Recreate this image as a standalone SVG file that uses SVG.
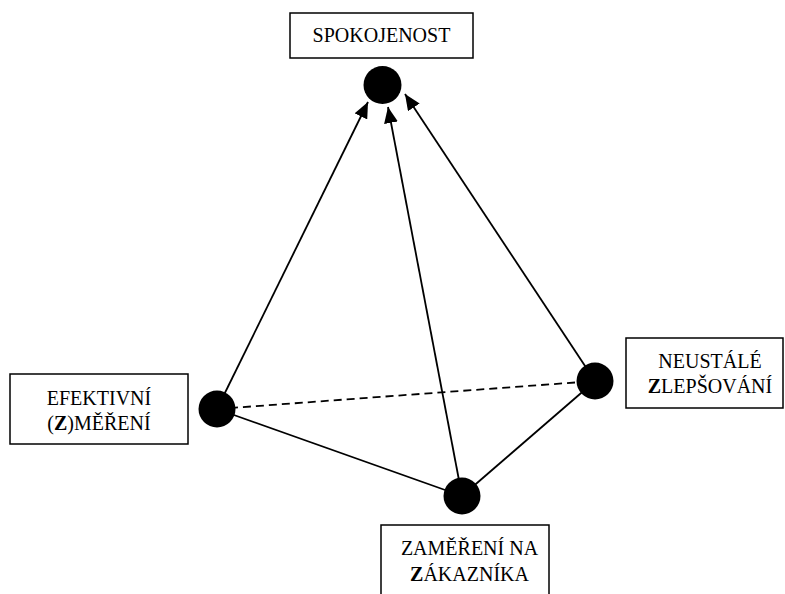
<svg xmlns="http://www.w3.org/2000/svg" width="785" height="594" viewBox="0 0 785 594">
<style>
.box{fill:#fff;stroke:#000;stroke-width:1.5}
.t{font-family:"Liberation Serif","Times New Roman",serif;font-size:20px;fill:#000;text-anchor:middle}
.b{font-weight:bold}
.dot{fill:#000}
.edge{stroke:#000;stroke-width:1.8;fill:none}
.dash{stroke-dasharray:8,5}
</style>
<defs>
<marker id="ah" markerUnits="userSpaceOnUse" markerWidth="16" markerHeight="14" refX="16" refY="7" orient="auto">
<path d="M0,0 L16,7 L0,14 Z" fill="#000"/>
</marker>
</defs>
<rect width="785" height="594" fill="#fff"/>
<g id="connectors">
<line class="edge" x1="217" y1="409" x2="368" y2="102" marker-end="url(#ah)"/>
<line class="edge" x1="462" y1="496" x2="388" y2="107" marker-end="url(#ah)"/>
<line class="edge" x1="595" y1="381" x2="405" y2="94" marker-end="url(#ah)"/>
<line class="edge" x1="217" y1="409" x2="462" y2="496"/>
<line class="edge" x1="462" y1="496" x2="595" y2="381"/>
<line class="edge dash" x1="217" y1="409" x2="595" y2="381"/>
</g>
<g id="spokojenost">
<rect class="box" x="290" y="13" width="183" height="45"/>
<text class="t" x="381.5" y="42">SPOKOJENOST</text>
<circle class="dot" cx="382.5" cy="85" r="19"/>
</g>
<g id="mereni">
<rect class="box" x="10" y="374" width="178" height="70"/>
<text class="t" x="99" y="405">EFEKTIVNÍ</text>
<text class="t" x="99" y="430">(<tspan class="b">Z</tspan>)MĚŘENÍ</text>
<circle class="dot" cx="217" cy="409" r="18.5"/>
</g>
<g id="zlepsovani">
<rect class="box" x="626" y="338" width="157" height="70"/>
<text class="t" x="710" y="368">NEUSTÁLÉ</text>
<text class="t" x="710" y="393"><tspan class="b">Z</tspan>LEPŠOVÁNÍ</text>
<circle class="dot" cx="595" cy="381" r="18.5"/>
</g>
<g id="zakaznik">
<rect class="box" x="381" y="525" width="168" height="80"/>
<text class="t" x="469.5" y="555">ZAMĚŘENÍ NA</text>
<text class="t" x="469.5" y="581"><tspan class="b">Z</tspan>ÁKAZNÍKA</text>
<circle class="dot" cx="462" cy="496" r="18.5"/>
</g>
</svg>
